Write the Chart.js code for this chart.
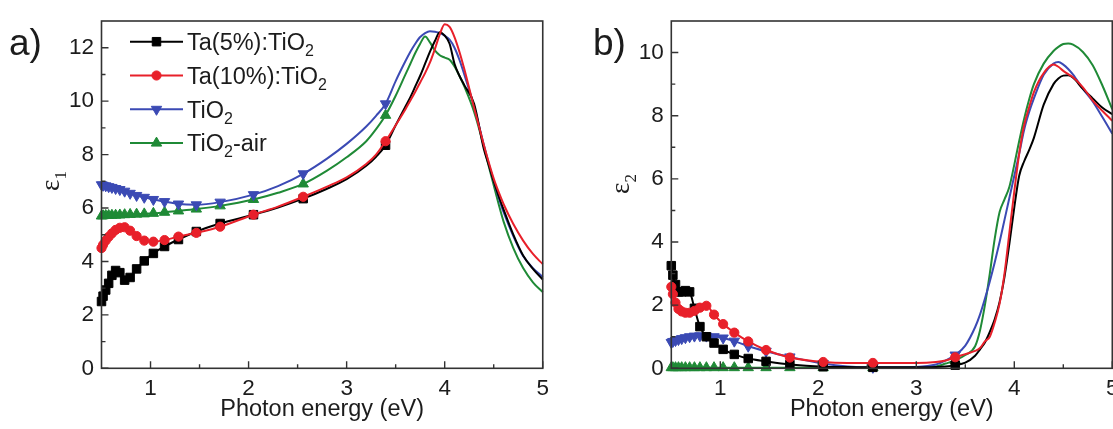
<!DOCTYPE html>
<html>
<head>
<meta charset="utf-8">
<script src="https://cdn.jsdelivr.net/npm/chart.js@4.4.1/dist/chart.umd.min.js"></script>
<style>
html,body{margin:0;padding:0;background:#fff;overflow:hidden;width:1113px;height:429px;}
#wa{position:absolute;left:0;top:0;width:556px;height:429px;}
#wb{position:absolute;left:556px;top:0;width:600px;height:429px;}
</style>
</head>
<body>
<div id="wa"><canvas id="ca"></canvas></div>
<div id="wb"><canvas id="cb"></canvas></div>
<script>
// ---------- data ----------
const energy = [0.500,0.516,0.543,0.573,0.606,0.644,0.687,0.736,0.792,0.858,
                0.936,1.029,1.143,1.285,1.467,1.710,2.050,2.300,2.557,2.800,
                3.000,3.200,3.300,3.397,3.500,3.600,3.650,3.700,3.750,3.800,
                3.850,3.900,3.950,4.000,4.050,4.100,4.150,4.200,4.300,4.400,
                4.450,4.500,4.550,4.600,4.700,4.800,4.900,5.000];
const markerEnergy = [0.500,0.516,0.543,0.573,0.606,0.644,0.687,0.736,0.792,0.858,
                      0.936,1.029,1.143,1.285,1.467,1.710,2.050,2.557,3.397];

const seriesNames = ['Ta(5%):TiO_2','Ta(10%):TiO_2','TiO_2','TiO_2-air'];

// panel a: epsilon_1
const eps1Ta5  = [2.50,2.70,2.93,3.18,3.48,3.66,3.58,3.30,3.40,3.72,
                  4.02,4.30,4.56,4.82,5.12,5.42,5.75,6.02,6.35,6.72,
                  7.08,7.58,7.92,8.35,9.10,9.80,10.15,10.55,10.95,11.40,
                  11.85,12.25,12.58,12.45,12.15,11.40,10.95,10.60,9.90,8.20,
                  7.60,7.00,6.45,5.95,5.00,4.22,3.72,3.32];
const eps1Ta10 = [4.50,4.62,4.78,4.92,5.05,5.18,5.26,5.28,5.15,4.95,
                  4.78,4.74,4.80,4.93,5.07,5.30,5.75,6.05,6.42,6.80,
                  7.15,7.65,8.00,8.50,9.10,9.70,10.02,10.35,10.70,11.05,
                  11.45,11.95,12.50,12.88,12.78,12.40,11.85,11.20,9.75,8.35,
                  7.70,7.10,6.60,6.15,5.40,4.78,4.28,3.90];
const eps1TiO2 = [6.87,6.85,6.83,6.80,6.77,6.73,6.69,6.63,6.55,6.47,
                  6.40,6.32,6.24,6.15,6.12,6.22,6.50,6.82,7.28,7.85,
                  8.40,9.05,9.45,9.90,10.75,11.50,11.85,12.15,12.40,12.55,
                  12.62,12.60,12.55,12.45,12.30,12.00,11.55,11.00,9.80,8.35,
                  7.65,7.00,6.40,5.85,4.95,4.20,3.75,3.42];
const eps1Air  = [5.70,5.71,5.72,5.72,5.73,5.73,5.74,5.75,5.76,5.77,
                  5.78,5.80,5.84,5.89,5.96,6.08,6.32,6.57,6.90,7.40,
                  7.90,8.50,8.95,9.47,10.20,11.00,11.40,11.80,12.15,12.42,
                  12.20,11.90,11.72,11.63,11.55,11.30,10.95,10.55,9.60,8.30,
                  7.55,6.85,6.15,5.50,4.50,3.75,3.22,2.85];

// panel b: epsilon_2
const eps2Ta5  = [3.25,2.95,2.65,2.42,2.42,2.46,2.42,1.90,1.32,1.00,
                  0.80,0.60,0.44,0.31,0.22,0.12,0.05,0.04,0.03,0.03,
                  0.03,0.04,0.06,0.10,0.18,0.40,0.60,0.82,1.15,1.55,
                  2.10,2.90,3.95,5.10,6.10,6.55,6.90,7.30,8.35,9.00,
                  9.18,9.27,9.28,9.20,8.85,8.55,8.25,8.05];
const eps2Ta10 = [2.58,2.35,2.08,1.88,1.80,1.76,1.76,1.82,1.92,1.98,
                  1.70,1.40,1.13,0.85,0.58,0.34,0.20,0.17,0.17,0.17,
                  0.17,0.20,0.25,0.35,0.45,0.55,0.64,0.85,1.00,1.45,
                  2.05,3.00,4.30,5.60,6.80,7.70,8.25,8.75,9.35,9.62,
                  9.55,9.42,9.32,9.22,8.90,8.48,8.15,7.84];
const eps2TiO2 = [0.82,0.85,0.88,0.91,0.94,0.97,1.00,1.02,1.03,1.02,
                  1.00,0.96,0.86,0.70,0.54,0.36,0.15,0.06,0.03,0.03,
                  0.04,0.12,0.25,0.42,0.72,1.30,1.70,2.20,2.75,3.35,
                  4.00,4.70,5.40,6.10,6.80,7.55,8.10,8.55,9.30,9.65,
                  9.70,9.62,9.48,9.30,8.85,8.45,7.95,7.43];
const eps2Air  = [0.02,0.02,0.02,0.02,0.02,0.02,0.02,0.02,0.02,0.02,
                  0.02,0.02,0.02,0.02,0.02,0.02,0.02,0.02,0.02,0.02,
                  0.03,0.06,0.15,0.25,0.42,0.70,1.20,2.00,3.00,4.10,
                  4.95,5.35,5.75,6.45,7.20,7.90,8.50,9.00,9.65,10.05,
                  10.18,10.27,10.29,10.25,10.02,9.60,8.95,8.20];

const xTicks  = [1,2,3,4,5];
const xMinor  = [1.5,2.5,3.5,4.5];
const yTicksA = [0,2,4,6,8,10,12];
const yMinorA = [1,3,5,7,9,11];
const yTicksB = [0,2,4,6,8,10];
const yMinorB = [1,3,5,7,9];

// ---------- styling ----------
const FONT = "'Liberation Sans', Arial, Helvetica, sans-serif";
const INK = '#1c1c1c';
const AXIS = '#333333';
const styles = [
  {color:'#000000', pointStyle:'rect',     radius:6.0, rotation:0,   order:1},
  {color:'#e8202a', pointStyle:'circle',   radius:4.6, rotation:0,   order:0},
  {color:'#3b4ab4', pointStyle:'triangle', radius:6.0, rotation:180, order:2},
  {color:'#1f8a36', pointStyle:'triangle', radius:6.0, rotation:0,   order:3}
];

function isMarker(e){ return markerEnergy.some(m => Math.abs(m - e) < 1e-6); }

function makeDatasets(seriesList){
  return seriesList.map((vals, k) => {
    const st = styles[k];
    return {
      label: seriesNames[k],
      data: energy.map((e, i) => ({x: e, y: vals[i]})),
      borderColor: st.color,
      backgroundColor: st.color,
      borderWidth: 2,
      pointStyle: st.pointStyle,
      pointRotation: st.rotation,
      pointBackgroundColor: st.color,
      pointBorderColor: st.color,
      pointBorderWidth: 1,
      pointRadius: ctx => (ctx.raw && isMarker(ctx.raw.x)) ? st.radius : 0,
      pointHoverRadius: 0,
      cubicInterpolationMode: 'monotone',
      clip: false,
      order: st.order
    };
  });
}

function richParts(s){
  const out = []; let buf = '';
  for (let i = 0; i < s.length; i++){
    if (s[i] === '_'){ if (buf) out.push([buf,false]); buf=''; out.push([s[i+1], true]); i++; }
    else buf += s[i];
  }
  if (buf) out.push([buf,false]);
  return out;
}
function richWidth(ctx, s, size, subSize, family){
  let w = 0;
  for (const [t, sub] of richParts(s)){ ctx.font = (sub?subSize:size)+'px '+family; w += ctx.measureText(t).width; }
  return w;
}
function drawRich(ctx, s, x, y, size, subSize, drop, family){
  let cx = x;
  for (const [t, sub] of richParts(s)){
    ctx.font = (sub?subSize:size)+'px '+family;
    ctx.fillText(t, cx, sub ? y + drop : y);
    cx += ctx.measureText(t).width;
  }
}
function marker(ctx, st, x, y){
  ctx.fillStyle = st.color; ctx.strokeStyle = st.color; ctx.lineWidth = 1;
  if (Chart.helpers && Chart.helpers.drawPoint){
    Chart.helpers.drawPoint(ctx, {pointStyle: st.pointStyle, radius: st.radius, rotation: st.rotation, borderWidth: 1}, x, y);
  }
}

const decorPlugin = {
  id: 'decor',
  afterDraw(chart, args, o){
    const {ctx, chartArea: a} = chart;
    const xs = chart.scales.x, ys = chart.scales.y;
    ctx.save();
    // ticks (inside)
    ctx.strokeStyle = AXIS; ctx.lineWidth = 1.4;
    ctx.beginPath();
    xTicks.forEach(v => { const p = xs.getPixelForValue(v); ctx.moveTo(p, a.bottom); ctx.lineTo(p, a.bottom - 7); });
    xMinor.forEach(v => { const p = xs.getPixelForValue(v); ctx.moveTo(p, a.bottom); ctx.lineTo(p, a.bottom - 4); });
    o.yMajor.forEach(v => { const p = ys.getPixelForValue(v); ctx.moveTo(a.left, p); ctx.lineTo(a.left + 7, p); });
    o.yMinor.forEach(v => { const p = ys.getPixelForValue(v); ctx.moveTo(a.left, p); ctx.lineTo(a.left + 4, p); });
    ctx.stroke();
    // frame
    ctx.lineWidth = 1.6;
    ctx.strokeRect(a.left, a.top, a.right - a.left, a.bottom - a.top);
    // y title (rotated)
    ctx.fillStyle = INK;
    ctx.textBaseline = 'alphabetic';
    ctx.translate(o.titleX, o.titleY);
    ctx.rotate(-Math.PI/2);
    const fam = "'Liberation Serif', 'DejaVu Serif', serif";
    const w = richWidth(ctx, o.yTitle, 27, 17, fam);
    drawRich(ctx, o.yTitle, -w/2, 0, 27, 17, 7, fam);
    ctx.setTransform(1,0,0,1,0,0);
    ctx.restore();
    ctx.save();
    // panel label
    ctx.fillStyle = INK;
    ctx.font = '37px ' + FONT;
    ctx.textBaseline = 'alphabetic';
    ctx.fillText(o.panel, o.panelX, o.panelY);
    // legend
    if (o.legend){
      const rows = [41.7, 75.5, 109.3, 143.1];
      seriesNames.forEach((name, k) => {
        const st = styles[k], y = rows[k];
        ctx.strokeStyle = st.color; ctx.lineWidth = 2;
        ctx.beginPath(); ctx.moveTo(130, y); ctx.lineTo(183, y); ctx.stroke();
        marker(ctx, st, 156.5, y);
        ctx.fillStyle = INK;
        drawRich(ctx, name, 187, y + 8.3, 23.5, 16, 6, FONT);
      });
    }
    ctx.restore();
  }
};

function makeChart(id, seriesList, yMax, yTicks, yMinor, o){
  return new Chart(document.getElementById(id), {
    type: 'line',
    data: { datasets: makeDatasets(seriesList) },
    options: {
      responsive: true, maintainAspectRatio: false, animation: false,
      events: [],
      layout: { padding: { left: 0, right: o.padRight, top: o.padTop, bottom: 0 } },
      plugins: { legend: {display:false}, tooltip: {enabled:false}, decor: o },
      scales: {
        x: {
          type: 'linear', min: 0.5, max: 5,
          afterBuildTicks: s => { s.ticks = xTicks.map(v => ({value: v})); },
          afterFit: s => { s.height = 429 - 368.3; },
          grid: { display: false, drawTicks: false },
          border: { display: false },
          ticks: { font: {family: FONT, size: 22.5}, color: INK, padding: 7, maxRotation: 0, autoSkip: false },
          title: { display: true, text: 'Photon energy (eV)', font: {family: FONT, size: 23.5}, color: INK, padding: {top: 0, bottom: 5} }
        },
        y: {
          type: 'linear', min: 0, max: yMax,
          afterBuildTicks: s => { s.ticks = yTicks.map(v => ({value: v})); },
          afterFit: s => { s.width = o.yWidth; },
          grid: { display: false, drawTicks: false },
          border: { display: false },
          ticks: { font: {family: FONT, size: 22.5}, color: INK, padding: 7.5, autoSkip: false }
        }
      }
    },
    plugins: [decorPlugin]
  });
}

makeChart('ca', [eps1Ta5, eps1Ta10, eps1TiO2, eps1Air], 13, yTicksA, yMinorA, {
  yMajor: yTicksA, yMinor: yMinorA, yTitle: 'ε_1', titleX: 59, titleY: 181,
  panel: 'a)', panelX: 9, panelY: 55, legend: true,
  padRight: 556 - 543.5, padTop: 12.3, yWidth: 101.5
});
makeChart('cb', [eps2Ta5, eps2Ta10, eps2TiO2, eps2Air], 11, yTicksB, yMinorB, {
  yMajor: yTicksB, yMinor: yMinorB, yTitle: 'ε_2', titleX: 628.8 - 556, titleY: 184,
  panel: 'b)', panelX: 593 - 556, panelY: 55, legend: false,
  padRight: 600 - 556.3, padTop: 11.7, yWidth: 115.3
});
</script>
</body>
</html>
